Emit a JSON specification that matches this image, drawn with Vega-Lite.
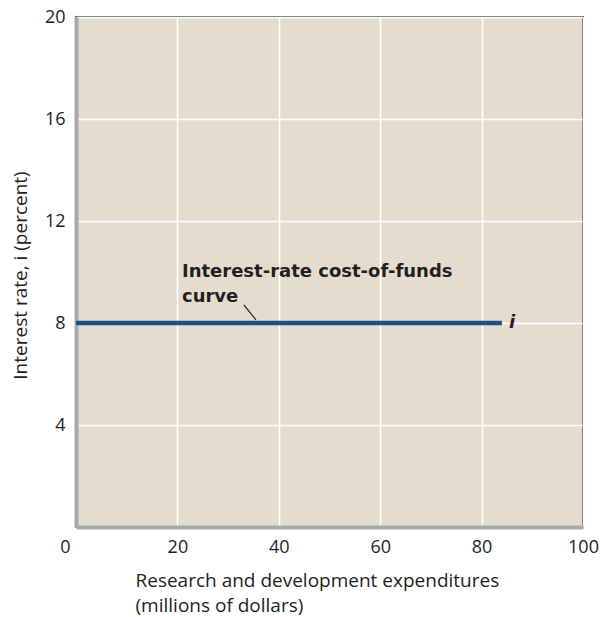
{
  "$schema": "https://vega.github.io/schema/vega-lite/v6.json",
  "width": 507,
  "height": 510,
  "autosize": "none",
  "padding": {"left": 76, "top": 17, "right": 22, "bottom": 90},
  "background": "white",
  "config": {
    "font": "Open Sans",
    "view": {"fill": "#e5dcd0", "stroke": "#58595b", "strokeWidth": 2},
    "axis": {"grid": true, "gridColor": "white", "gridWidth": 1.5, "ticks": false, "tickSize": 0, "labelFont": "Open Sans", "labelFontSize": 18, "labelColor": "#231f20", "titleFont": "Open Sans", "titleFontSize": 19, "titleFontWeight": "normal", "titleColor": "#231f20", "domainColor": "#a7a9ac", "domainWidth": 4}
  },
  "datasets": {
    "curve": [{"x": 0, "y": 8}, {"x": 84, "y": 8}],
    "labels": [
      {"x": 20.9, "y": 9.8, "text": "Interest-rate cost-of-funds"},
      {"x": 20.9, "y": 8.82, "text": "curve"}
    ],
    "leader": [{"x": 33.1, "y": 8.71, "x2": 35.5, "y2": 8.12}],
    "ilabel": [{"x": 85.4, "y": 8, "text": "i"}]
  },
  "layer": [
    {
      "data": {"name": "curve"},
      "mark": {"type": "line", "color": "#1d4f84", "strokeWidth": 4.5, "strokeCap": "butt"},
      "encoding": {
        "x": {"field": "x", "type": "quantitative", "scale": {"domain": [0, 100], "nice": false},
          "axis": {"values": [0, 20, 40, 60, 80, 100], "labelPadding": 11, "labelFlush": false,
            "labelOffset": {"condition": {"test": "datum.value === 0", "value": -11}, "value": 0},
            "title": ["Research and development expenditures", "(millions of dollars)"],
            "titleAnchor": "start", "titleAlign": "left", "titleX": 59, "titleY": 59, "titleBaseline": "alphabetic", "titleLineHeight": 25}},
        "y": {"field": "y", "type": "quantitative", "scale": {"domain": [0, 20], "nice": false},
          "axis": {"values": [4, 8, 12, 16, 20], "labelPadding": 11, "labelFlush": false,
            "title": "Interest rate, i (percent)", "titleAngle": -90, "titleX": -56, "titleY": 258, "titleAlign": "center", "titleBaseline": "middle"}}
      }
    },
    {
      "data": {"name": "labels"},
      "mark": {"type": "text", "align": "left", "baseline": "alphabetic", "font": "DejaVu Sans", "fontWeight": "bold", "fontSize": 18, "color": "#231f20"},
      "encoding": {
        "x": {"field": "x", "type": "quantitative"},
        "y": {"field": "y", "type": "quantitative"},
        "text": {"field": "text"}
      }
    },
    {
      "data": {"name": "leader"},
      "mark": {"type": "rule", "color": "#231f20", "strokeWidth": 1.2},
      "encoding": {
        "x": {"field": "x", "type": "quantitative"},
        "y": {"field": "y", "type": "quantitative"},
        "x2": {"field": "x2"},
        "y2": {"field": "y2"}
      }
    },
    {
      "data": {"name": "ilabel"},
      "mark": {"type": "text", "align": "left", "baseline": "middle", "font": "DejaVu Sans", "fontWeight": "bold", "fontStyle": "italic", "fontSize": 18, "color": "#231f20"},
      "encoding": {
        "x": {"field": "x", "type": "quantitative"},
        "y": {"field": "y", "type": "quantitative"},
        "text": {"field": "text"}
      }
    }
  ]
}
